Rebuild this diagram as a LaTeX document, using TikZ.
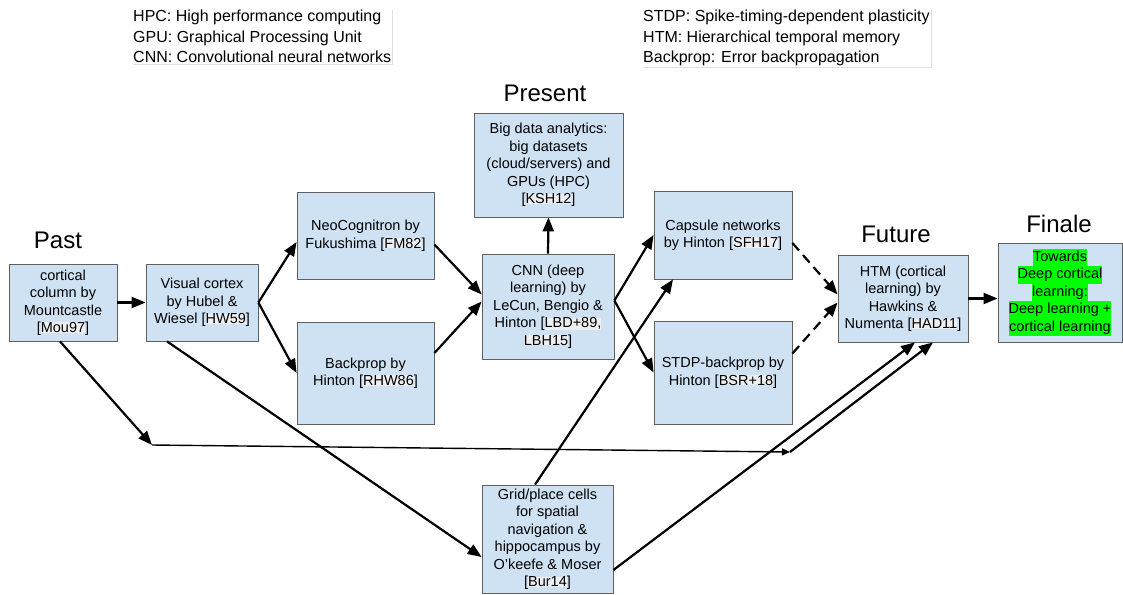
\documentclass[tikz,border=0pt]{standalone}
\usepackage{fontspec}
\setmainfont{Liberation Sans}
\usepackage{tikz}
\usetikzlibrary{positioning}
\usetikzlibrary{arrows.meta}
\usetikzlibrary{shadows}
\usepackage{xcolor}
\definecolor{boxblue}{HTML}{CFE2F3}
\definecolor{boxline}{HTML}{5F5F5F}
\definecolor{hlgreen}{HTML}{00FF00}
\definecolor{keygrey}{HTML}{EDEFF2}
\newcommand{\grn}[1]{{\fboxsep=0pt\colorbox{hlgreen}{\strut #1}}}
\newcommand{\ckey}[1]{{\fboxsep=0pt\colorbox{keygrey}{#1}}}
\tikzset{
        >={Triangle[length=14pt,width=11pt]},
        card/.style={
          draw=boxline, line width=0.8pt, fill=boxblue,
          align=center, inner sep=2pt,
          font=\fontsize{14.5}{17.5}\selectfont,
          drop shadow={shadow xshift=1.2pt, shadow yshift=-1.2pt, opacity=0.3}
          },
        era/.style={anchor=base, font=\fontsize{24}{28}\selectfont},
        legend/.style={
          anchor=north west, align=left, fill=white, inner sep=1pt,
          font=\fontsize{16}{20.5}\selectfont,
          drop shadow={shadow xshift=1pt, shadow yshift=-1pt, opacity=0.25}
          },
        link/.style={->, line width=2.2pt},
        dashed link/.style={dash pattern=on 10pt off 6pt},
        thin link/.style={-{Triangle[length=8pt,width=7pt]}, line width=1.4pt},
}

\begin{document}
\begin{tikzpicture}[x=1pt, y=-1pt]
      \useasboundingbox (0,0) rectangle (1123,594);
      % ABBREVIATIONS
      \node[legend] (abbrleft) at (132,9) {HPC: High performance computing\\GPU: Graphical Processing Unit\\CNN: Convolutional neural networks};
      \node[legend] (abbrright) at (642,9) {STDP: Spike-timing-dependent plasticity\\HTM: Hierarchical temporal memory\\Backprop: Error backpropagation};

      % ERAS
      \node[era] (pastlbl) at (58,248) {Past};
      \node[era] (presentlbl) at (545,101) {Present};
      \node[era] (futurelbl) at (896,242) {Future};
      \node[era] (finalelbl) at (1059,232) {Finale};

      % PAST
      \node[card, minimum width=108pt, minimum height=77pt] (column) at (63,302.5) {cortical\\column by\\Mountcastle\\{[}\ckey{Mou97}]};
      \node[card, minimum width=112pt, minimum height=77pt] (visual) at (202,302.5) {Visual cortex\\by Hubel \&\\Wiesel [\ckey{HW59}]};
      \node[card, minimum width=137pt, minimum height=87pt] (neocog) at (365.5,235.5) {NeoCognitron by\\Fukushima [\ckey{FM82}]};
      \node[card, minimum width=137pt, minimum height=102pt] (backprop) at (365.5,373) {Backprop by\\Hinton [\ckey{RHW86}]};

      % PRESENT
      \node[card, minimum width=149pt, minimum height=104pt] (bigdata) at (548.5,165) {Big data analytics:\\big datasets\\(cloud/servers) and\\GPUs (HPC)\\{[}\ckey{KSH12}]};
      \node[card, minimum width=132pt, minimum height=105pt] (cnn) at (548,306.5) {CNN (deep\\learning) by\\LeCun, Bengio \&\\Hinton [\ckey{LBD+89,}\\\ckey{LBH15}]};
      \node[card, minimum width=138pt, minimum height=88pt] (capsule) at (723,235) {Capsule networks\\by Hinton [\ckey{SFH17}]};
      \node[card, minimum width=138pt, minimum height=103pt] (stdp) at (723,372.5) {STDP-backprop by\\Hinton [\ckey{BSR+18}]};
      \node[card, minimum width=131pt, minimum height=108pt] (grid) at (547.5,539) {Grid/place cells\\for spatial\\navigation \&\\hippocampus by\\O'keefe \& Moser\\{[}\ckey{Bur14}]};

      % FUTURE
      \node[card, minimum width=130pt, minimum height=87pt] (htm) at (903,298.5) {HTM (cortical\\learning) by\\Hawkins \&\\Numenta [\ckey{HAD11}]};
      \node[card, minimum width=124pt, minimum height=99pt] (towards) at (1060,292.5) {\grn{Towards}\\\grn{Deep cortical}\\\grn{learning:}\\\grn{Deep learning +}\\\grn{cortical learning}};

      % WIRING
      \draw[link] (column.east) -- (visual.west);
      \draw[link] (visual.east) -- ([yshift=-6.5pt]neocog.west);
      \draw[link] (visual.east) -- (backprop.west);
      \draw[link] ([yshift=-9pt]neocog.east) -- ([yshift=12pt]cnn.west);
      \draw[link] ([yshift=20pt]backprop.east) -- ([yshift=5pt]cnn.west);
      \draw[link] (cnn.north) -- (bigdata.south);
      \draw[link] ([yshift=6pt]cnn.east) -- (capsule.west);
      \draw[link] ([yshift=6pt]cnn.east) -- (stdp.west);
      % dashed into htm
      \draw[link, dashed link] ([yshift=-8pt]capsule.east) -- ([yshift=4pt]htm.west);
      \draw[link, dashed link] ([yshift=19pt]stdp.east) -- ([yshift=-4pt]htm.west);
      \draw[link] (htm.east) -- (htm.east -| towards.west);
      % long way round under the boxes
      \coordinate (turnA) at (152,445);
      \coordinate (turnB) at (790,452);
      \draw[link] ([xshift=-3pt]column.south) -- (turnA);
      \draw[thin link] (turnA) -- (turnB);
      \draw[link] (turnB) -- ([xshift=30pt]htm.south);
      % grid cells
      \draw[link] ([xshift=-35pt]visual.south) -- ([yshift=-18pt]grid.west);
      \draw[link] ([xshift=-12.5pt]grid.north) -- ([xshift=-50pt]capsule.south);
      \draw[link] ([yshift=-31pt]grid.east) -- ([xshift=12pt]htm.south);
\end{tikzpicture}
\end{document}
